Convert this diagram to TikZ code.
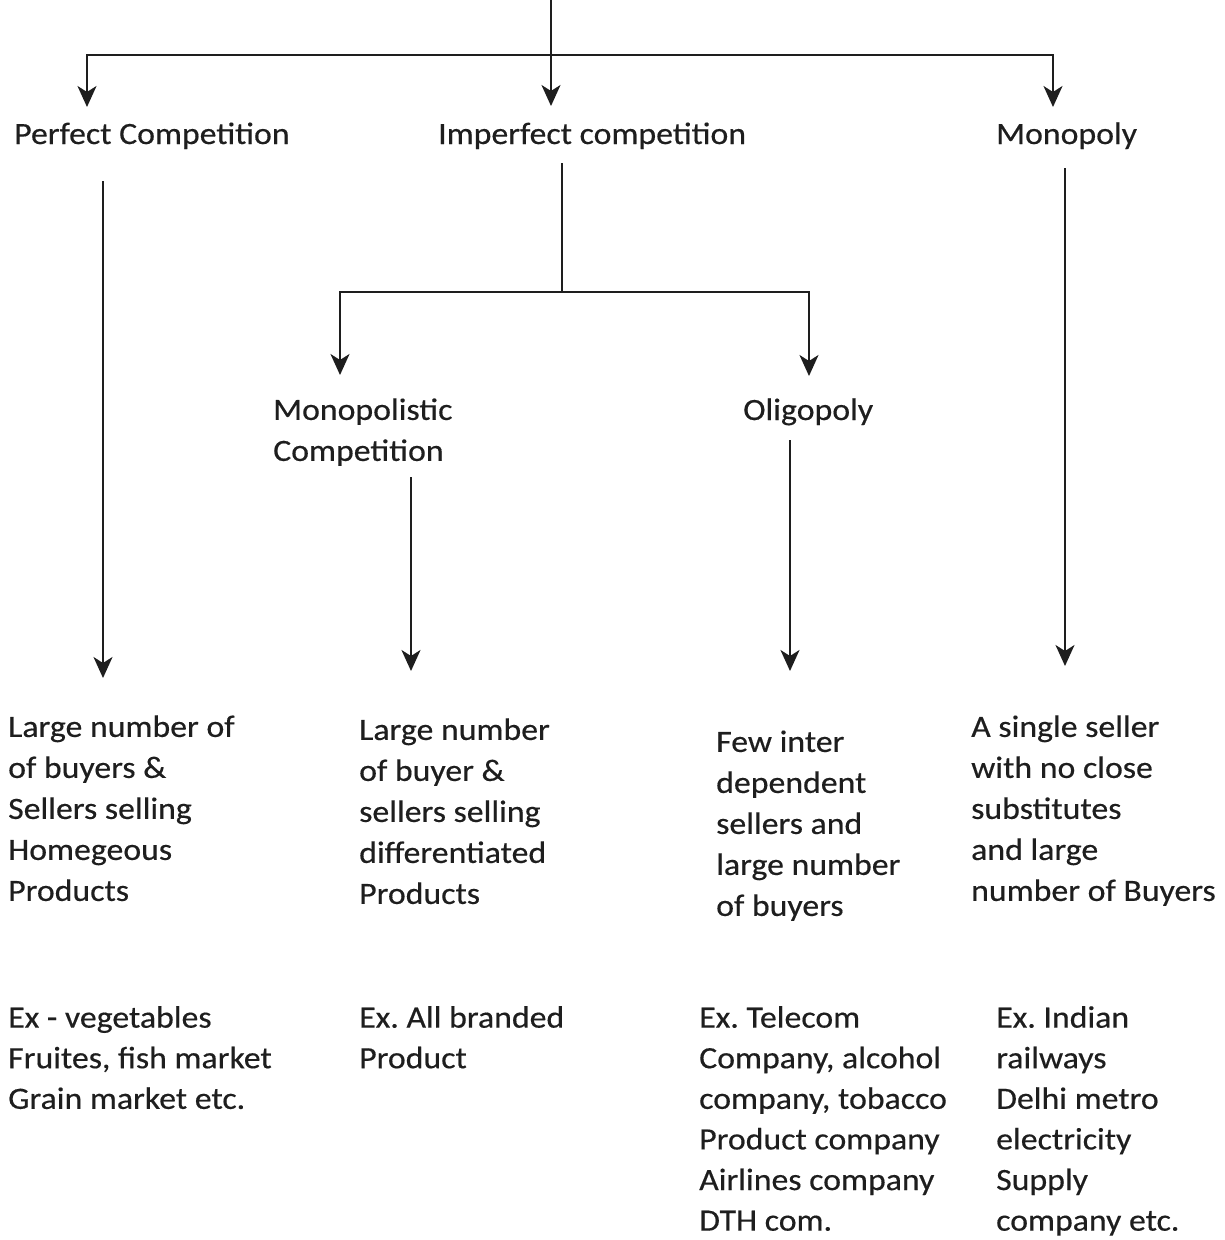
\documentclass[tikz,border=0pt]{standalone}
\usepackage{fontspec}
\setmainfont{Carlito}[FakeStretch=1.09,FakeBold=0.4]
\usetikzlibrary{arrows.meta}
\definecolor{ink}{HTML}{1E1E1E}
\begin{document}
\frenchspacing
\begin{tikzpicture}[x=1pt,y=-1pt,
  conn/.style={line width=2pt, draw=ink},
  arr/.style={conn, -{Stealth[length=21pt,width=19pt,inset=6pt]}},
  lbl/.style={anchor=base west, inner sep=0pt, text=ink, font=\fontsize{31}{41}\selectfont},
  blk/.style={anchor=north west, inner sep=0pt, align=left, text=ink, font=\fontsize{31}{41}\selectfont},
  exblk/.style={blk, font=\fontsize{31}{40.6}\selectfont}]
\useasboundingbox[fill=white] (0,0) rectangle (1225,1240);

% headings
\node[lbl] (pc) at (14,144) {Perfect Competition};
\node[lbl] (ic) at (438,144) {Imperfect competition};
\node[lbl] (mo) at (996,144) {Monopoly};
\node[blk] (mc) at (273,391) {\strut Monopolistic\\Competition};
\node[lbl] (ol) at (743,420) {Oligopoly};

% descriptions
\node[blk] (d1) at (8,708) {\strut Large number of\\of buyers \&\\Sellers selling\\Homegeous\\Products};
\node[blk] (d2) at (359,711) {\strut Large number\\of buyer \&\\sellers selling\\differentiated\\Products};
\node[blk] (d3) at (716,723) {\strut Few inter\\dependent\\sellers and\\large number\\of buyers};
\node[blk] (d4) at (971,708) {\strut A single seller\\with no close\\substitutes\\and large\\number of Buyers};

% examples
\node[exblk] (e1) at (8,999) {\strut Ex - vegetables\\Fruites, fish market\\Grain market etc.};
\node[exblk] (e2) at (359,999) {\strut Ex. All branded\\Product};
\node[exblk] (e3) at (699,999) {\strut Ex. Telecom\\Company, alcohol\\company, tobacco\\Product company\\Airlines company\\DTH com.};
\node[exblk] (e4) at (996,999) {\strut Ex. Indian\\railways\\Delhi metro\\electricity\\Supply\\company etc.};

% connector points
\coordinate (root) at (551,0);
\coordinate (j0) at (551,55);
\coordinate (tIC) at (551,106);
\coordinate (tPC) at (87,107);
\coordinate (tMO) at (1053,107);
\coordinate (pcS) at (103,181);
\coordinate (pcT) at (103,678);
\coordinate (icS) at (562,163);
\coordinate (icJ) at (562,292);
\coordinate (mcT) at (340,375);
\coordinate (olT) at (809,376);
\coordinate (moS) at (1065,168);
\coordinate (moT) at (1065,666);
\coordinate (mcS) at (411,477);
\coordinate (mcB) at (411,671);
\coordinate (olS) at (790,440);
\coordinate (olB) at (790,671);

\draw[arr] (root) -- (tIC);
\draw[arr] (j0) -| (tPC);
\draw[arr] (j0) -| (tMO);
\draw[arr] (pcS) -- (pcT);
\draw[conn] (icS) -- (icJ);
\draw[arr] (icJ) -| (mcT);
\draw[arr] (icJ) -| (olT);
\draw[arr] (moS) -- (moT);
\draw[arr] (mcS) -- (mcB);
\draw[arr] (olS) -- (olB);
\end{tikzpicture}
\end{document}
